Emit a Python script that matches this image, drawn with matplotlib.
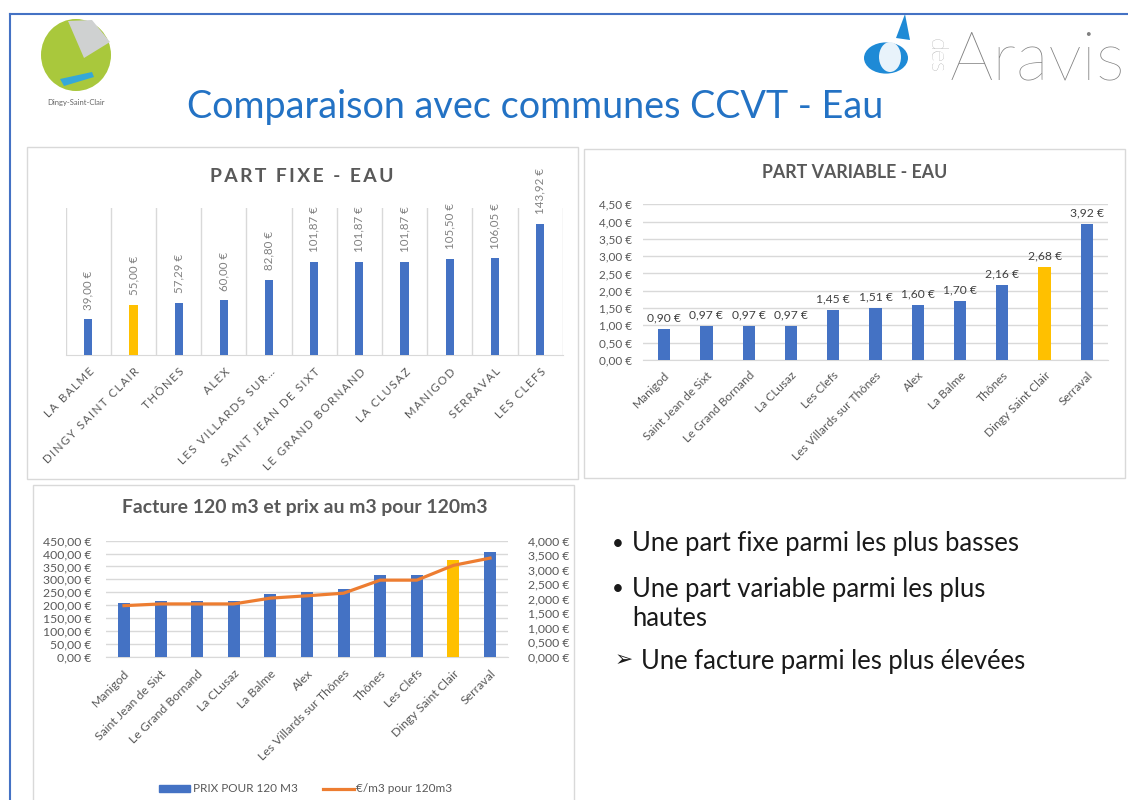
import matplotlib
matplotlib.use('Agg')
import matplotlib.pyplot as plt
from matplotlib.patches import Rectangle, Ellipse, Circle, Polygon
from matplotlib.lines import Line2D
from matplotlib.ticker import FuncFormatter, MultipleLocator

# ---------------- data ----------------
fixe_communes = ['LA BALME', 'DINGY SAINT CLAIR', 'THÔNES', 'ALEX', 'LES VILLARDS SUR…',
                 'SAINT JEAN DE SIXT', 'LE GRAND BORNAND', 'LA CLUSAZ', 'MANIGOD',
                 'SERRAVAL', 'LES CLEFS']
fixe_values = [39.00, 55.00, 57.29, 60.00, 82.80, 101.87, 101.87, 101.87, 105.50, 106.05, 143.92]

var_communes = ['Manigod', 'Saint Jean de Sixt', 'Le Grand Bornand', 'La CLusaz', 'Les Clefs',
                'Les Villards sur Thônes', 'Alex', 'La Balme', 'Thônes', 'Dingy Saint Clair',
                'Serraval']
var_values = [0.90, 0.97, 0.97, 0.97, 1.45, 1.51, 1.60, 1.70, 2.16, 2.68, 3.92]

fact_communes = ['Manigod', 'Saint Jean de Sixt', 'Le Grand Bornand', 'La CLusaz', 'La Balme',
                 'Alex', 'Les Villards sur Thônes', 'Thônes', 'Les Clefs', 'Dingy Saint Clair',
                 'Serraval']
fact_values = [210, 216, 216, 216, 242, 252, 262, 316, 316, 377, 407]
prix_m3 = [1.76, 1.82, 1.82, 1.82, 2.02, 2.10, 2.19, 2.64, 2.64, 3.15, 3.40]

highlight = 'Dingy Saint Clair'

bullets = ['Une part fixe parmi les plus basses',
           'Une part variable parmi les plus',
           'hautes',
           'Une facture parmi les plus élevées']

# ---------------- style ----------------
W, H = 1128, 800
BLUE = '#4472C4'
GOLD = '#FFC000'
ORANGE = '#ED7D31'
GRID = '#D9D9D9'
TXT = '#595959'
FONT = ['Lato', 'DejaVu Sans']
plt.rcParams['font.family'] = FONT

fig = plt.figure(figsize=(W / 100, H / 100), dpi=100)
fig.patch.set_facecolor('white')
renderer = fig.canvas.get_renderer()


def fx(x):
    return x / W


def fy(y):
    return 1 - y / H


def ax_px(x0, y0, x1, y1):
    return fig.add_axes([x0 / W, 1 - y1 / H, (x1 - x0) / W, (y1 - y0) / H])


def fit_text(text, x0, x1, y, ha='left', **kw):
    t = fig.text(fx(x0), fy(y), text, fontsize=10, ha='left', va='center', **kw)
    w = t.get_window_extent(renderer).width
    size = 10 * (x1 - x0) / w
    t.set_fontsize(size)
    if ha == 'center':
        t.set_x(fx((x0 + x1) / 2))
        t.set_ha('center')
    return t, size


def spaced(s, sep='\u2009'):
    return sep.join(list(s))


def euro(v, nd=2):
    return f"{v:.{nd}f}".replace('.', ',') + ' €'


def colors_for(names):
    return [GOLD if n.lower() == highlight.lower() else BLUE for n in names]


# ---------------- slide frame ----------------
fig.add_artist(Line2D([fx(10), fx(W)], [fy(14), fy(14)], color=BLUE, lw=1.5))
fig.add_artist(Line2D([fx(10), fx(10)], [fy(14), fy(H)], color=BLUE, lw=1.5))

# panels
for (x0, y0, x1, y1) in [(27, 147, 578, 479), (584, 149, 1125, 478), (33, 485, 574, 805)]:
    fig.add_artist(Rectangle((fx(x0), fy(y1)), (x1 - x0) / W, (y1 - y0) / H,
                             transform=fig.transFigure, facecolor='white',
                             edgecolor=GRID, lw=1.0, zorder=0))

# ---------------- logos (approximation) ----------------
fig.add_artist(Ellipse((fx(76), fy(55)), 70 / W, 72 / H, transform=fig.transFigure,
                       facecolor='#A9C83C', edgecolor='none'))
fig.add_artist(Polygon([(fx(68), fy(21)), (fx(92), fy(20)), (fx(110), fy(42)), (fx(84), fy(58))],
                       closed=True, transform=fig.transFigure, facecolor='#CFD1D1', edgecolor='none'))
fig.add_artist(Polygon([(fx(60), fy(79)), (fx(92), fy(72)), (fx(94), fy(77)), (fx(64), fy(86))],
                       closed=True, transform=fig.transFigure, facecolor='#35A8D8', edgecolor='none'))
fig.text(fx(76), fy(102), 'Dingy-Saint-Clair', fontsize=5.5, color='#666666', ha='center', va='center')

fig.add_artist(Circle((fx(886), fy(58)), 22 / W, transform=fig.transFigure,
                      facecolor='#1E8AD6', edgecolor='none'))
fig.add_artist(Ellipse((fx(890), fy(57)), 22 / W, 30 / H, transform=fig.transFigure,
                       facecolor='#E8F3FB', edgecolor='none'))
fig.add_artist(Polygon([(fx(896), fy(38)), (fx(905), fy(14)), (fx(910), fy(40))],
                       closed=True, transform=fig.transFigure, facecolor='#1E8AD6', edgecolor='none'))
fig.text(fx(936), fy(55), 'des', fontsize=17, color='#8C8C8C', rotation=270,
         ha='center', va='center', fontweight='light')
fit_text('Aravis', 950, 1125, 61, color='#808080', fontweight='light')

# ---------------- slide title ----------------
fit_text('Comparaison avec communes CCVT - Eau', 187, 884, 107, color='#2372C4')

# ---------------- chart 1 : part fixe ----------------
ax1 = ax_px(65.7, 208.3, 562.7, 355)
x1 = list(range(len(fixe_values)))
ax1.bar(x1, fixe_values, width=0.18, color=colors_for(fixe_communes), zorder=3)
ax1.set_xlim(-0.5, len(fixe_values) - 0.5)
ax1.set_ylim(0, 161)
for b in [i - 0.5 for i in range(len(fixe_values) + 1)]:
    ax1.axvline(b, color=GRID, lw=1.0, zorder=1)
for s in ['top', 'left', 'right']:
    ax1.spines[s].set_visible(False)
ax1.spines['bottom'].set_color(GRID)
ax1.set_yticks([])
ax1.set_xticks(x1)
ax1.set_xticklabels([spaced(c) for c in fixe_communes], rotation=45, ha='right',
                    rotation_mode='anchor', fontsize=8.3, color=TXT)
ax1.tick_params(axis='x', length=0, pad=8)
for i, v in enumerate(fixe_values):
    ax1.annotate(euro(v), (i, v), xytext=(0, 7), textcoords='offset points', rotation=90,
                 ha='center', va='bottom', fontsize=8.3, color='#808080')
fit_text(spaced('PART FIXE - EAU', '\u2009'), 210, 395, 176, color=TXT, fontweight='bold')

# ---------------- chart 2 : part variable ----------------
ax2 = ax_px(643, 204.3, 1108, 360)
x2 = list(range(len(var_values)))
ax2.bar(x2, var_values, width=0.29, color=colors_for(var_communes), zorder=3)
ax2.set_xlim(-0.5, len(var_values) - 0.5)
ax2.set_ylim(0, 4.5)
ax2.yaxis.set_major_locator(MultipleLocator(0.5))
ax2.yaxis.set_major_formatter(FuncFormatter(lambda v, p: euro(v)))
ax2.grid(axis='y', color=GRID, lw=1.0, zorder=0)
ax2.set_axisbelow(True)
for s in ['top', 'left', 'right']:
    ax2.spines[s].set_visible(False)
ax2.spines['bottom'].set_color(GRID)
ax2.tick_params(axis='y', length=0, pad=8, labelsize=8.5, labelcolor=TXT)
ax2.set_xticks(x2)
ax2.set_xticklabels(var_communes, rotation=45, ha='right', rotation_mode='anchor',
                    fontsize=8.6, color=TXT)
ax2.tick_params(axis='x', length=0, pad=7)
for i, v in enumerate(var_values):
    ax2.annotate(euro(v), (i, v), xytext=(0, 4), textcoords='offset points',
                 ha='center', va='bottom', fontsize=8.7, color='#404040')
fit_text('PART VARIABLE - EAU', 762, 948, 173, color=TXT, fontweight='bold')

# ---------------- chart 3 : facture ----------------
ax3 = ax_px(105.7, 540.7, 508.3, 656.7)
x3 = list(range(len(fact_values)))
ax3.bar(x3, fact_values, width=0.33, color=colors_for(fact_communes), zorder=3,
        label='PRIX POUR 120 M3')
ax3.set_xlim(-0.5, len(fact_values) - 0.5)
ax3.set_ylim(0, 450)
ax3.yaxis.set_major_locator(MultipleLocator(50))
ax3.yaxis.set_major_formatter(FuncFormatter(lambda v, p: euro(v)))
ax3.grid(axis='y', color=GRID, lw=1.0, zorder=0)
ax3.set_axisbelow(True)
for s in ['top', 'left', 'right']:
    ax3.spines[s].set_visible(False)
ax3.spines['bottom'].set_color(GRID)
ax3.tick_params(axis='y', length=0, pad=10, labelsize=8.8, labelcolor=TXT)
ax3.set_xticks(x3)
ax3.set_xticklabels(fact_communes, rotation=45, ha='right', rotation_mode='anchor',
                    fontsize=8.8, color=TXT)
ax3.tick_params(axis='x', length=0, pad=8)

ax3b = ax3.twinx()
ax3b.plot(x3, prix_m3, color=ORANGE, lw=2.3, zorder=5, label='€/m3 pour 120m3')
ax3b.set_ylim(0, 4)
ax3b.yaxis.set_major_locator(MultipleLocator(0.5))
ax3b.yaxis.set_major_formatter(FuncFormatter(lambda v, p: euro(v, 3)))
for s in ['top', 'left', 'right', 'bottom']:
    ax3b.spines[s].set_visible(False)
ax3b.tick_params(axis='y', length=0, pad=14, labelsize=8.8, labelcolor=TXT)
fit_text('Facture 120 m3 et prix au m3 pour 120m3', 122, 487, 508, color=TXT, fontweight='bold')

leg_handles = [Rectangle((0, 0), 1, 1, color=BLUE), Line2D([0], [0], color=ORANGE, lw=2.3)]
fig.legend(leg_handles, ['PRIX POUR 120 M3', '€/m3 pour 120m3'], loc='center',
           bbox_to_anchor=(fx(306), fy(789)), ncol=2, frameon=False, fontsize=8.5,
           labelcolor=TXT, handlelength=2.6, handleheight=0.6, handletextpad=0.2,
           columnspacing=2.2)

# ---------------- bullet text ----------------
t, size = fit_text(bullets[0], 632, 1020, 544, color='#1A1A1A')
fig.text(fx(632), fy(589), bullets[1], fontsize=size, color='#1A1A1A', va='center')
fig.text(fx(632), fy(619), bullets[2], fontsize=size, color='#1A1A1A', va='center')
fig.text(fx(641), fy(661), bullets[3], fontsize=size, color='#1A1A1A', va='center')
fig.text(fx(618), fy(544), '•', fontsize=size * 0.8, color='#1A1A1A', ha='center', va='center')
fig.text(fx(618), fy(589), '•', fontsize=size * 0.8, color='#1A1A1A', ha='center', va='center')
fig.text(fx(624), fy(660), '➢', fontsize=size * 0.85, color='#1A1A1A', ha='center', va='center',
         family=['DejaVu Sans'])

fig.savefig('out.png', dpi=100, facecolor='white')
